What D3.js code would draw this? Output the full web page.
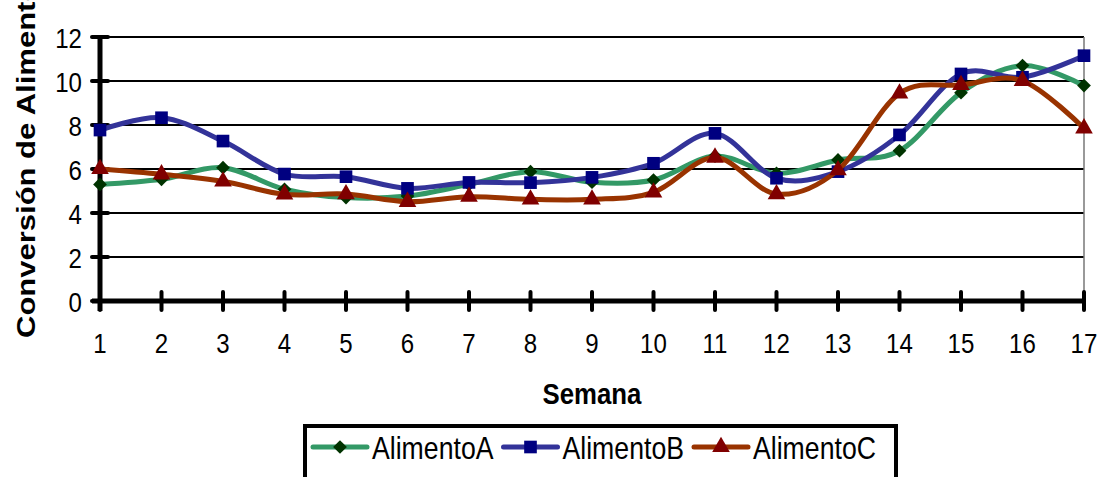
<!DOCTYPE html>
<html>
<head>
<meta charset="utf-8">
<script src="https://cdn.jsdelivr.net/npm/d3@7"></script>
<style>
  html, body { margin: 0; padding: 0; background: #fff; }
  svg { display: block; font-family: Arial, "Liberation Sans", sans-serif; }
</style>
</head>
<body>
<div id="chart"></div>
<script>
// Dimensions
const width = 1102;
const height = 477;
const plot = { left: 100, right: 1084, top: 37, bottom: 301 };
const squeeze = 0.86; // texts are horizontally narrow in the reference

// Données
const semanas = d3.range(1, 18);
const yTicks = [0, 2, 4, 6, 8, 10, 12];
const seriesNames = ['AlimentoA', 'AlimentoB', 'AlimentoC'];
const alimentoA = [5.3, 5.53, 6.06, 5.08, 4.7, 4.77, 5.3, 5.88, 5.4, 5.5, 6.59, 5.8, 6.41, 6.83, 9.47, 10.7, 9.79];
const alimentoB = [7.77, 8.33, 7.27, 5.77, 5.65, 5.12, 5.39, 5.38, 5.62, 6.26, 7.62, 5.58, 5.88, 7.55, 10.32, 10.17, 11.15];
const alimentoC = [6.0, 5.76, 5.44, 4.85, 4.86, 4.51, 4.74, 4.62, 4.62, 4.94, 6.52, 4.86, 5.95, 9.44, 9.82, 10.01, 7.85];

// Styles des séries
const styles = [
  { line: '#339966', marker: '#003300', symbol: d3.symbolDiamond2, size: 120 },
  { line: '#333399', marker: '#000080', symbol: d3.symbolSquare, size: 160 },
  { line: '#993300', marker: '#800000', symbol: d3.symbolTriangle, size: 135 }
];
const series = [alimentoA, alimentoB, alimentoC].map((values, i) => ({
  name: seriesNames[i],
  style: styles[i],
  points: values.map((v, j) => ({ x: semanas[j], y: v }))
}));

const svg = d3.select('#chart').append('svg')
  .attr('width', width)
  .attr('height', height);

// Echelles
const x = d3.scaleLinear().domain([1, 17]).range([plot.left, plot.right]);
const y = d3.scaleLinear().domain([0, 12]).range([plot.bottom, plot.top]);

// Grille horizontale
svg.append('g')
  .selectAll('line')
  .data(yTicks.filter(d => d > 0))
  .join('line')
    .attr('x1', plot.left).attr('x2', plot.right)
    .attr('y1', d => y(d)).attr('y2', d => y(d))
    .attr('stroke', '#000').attr('stroke-width', 2);

// Bord droit de la zone de tracé
svg.append('line')
  .attr('x1', plot.right).attr('x2', plot.right)
  .attr('y1', plot.top).attr('y2', plot.bottom)
  .attr('stroke', '#777').attr('stroke-width', 1.5);

// Axe vertical
const yAxis = svg.append('g')
  .attr('transform', `translate(${plot.left},0)`)
  .call(d3.axisLeft(y).tickValues(yTicks).tickSize(0).tickPadding(18))
  .call(g => g.select('.domain').remove());
yAxis.selectAll('.tick line').remove();
yAxis.selectAll('.tick text')
  .attr('font-size', 28)
  .attr('fill', '#000')
  .attr('font-family', 'Arial, "Liberation Sans", sans-serif')
  .attr('dy', '0.36em')
  .attr('transform', `scale(${squeeze},1)`)
  .attr('x', -18 / squeeze);
svg.append('line')
  .attr('x1', plot.left).attr('x2', plot.left)
  .attr('y1', plot.top).attr('y2', plot.bottom + 10)
  .attr('stroke', '#000').attr('stroke-width', 5);
svg.append('g')
  .selectAll('line')
  .data(yTicks)
  .join('line')
    .attr('x1', plot.left - 8).attr('x2', plot.left + 8)
    .attr('y1', d => y(d)).attr('y2', d => y(d))
    .attr('stroke', '#000').attr('stroke-width', 4).attr('stroke-linecap', 'round');

// Axe horizontal
svg.append('line')
  .attr('x1', plot.left - 8).attr('x2', plot.right)
  .attr('y1', plot.bottom).attr('y2', plot.bottom)
  .attr('stroke', '#000').attr('stroke-width', 5);
svg.append('g')
  .selectAll('line')
  .data(semanas)
  .join('line')
    .attr('x1', d => x(d)).attr('x2', d => x(d))
    .attr('y1', plot.bottom - 9).attr('y2', plot.bottom + 9)
    .attr('stroke', '#000').attr('stroke-width', 4).attr('stroke-linecap', 'round');
svg.append('g')
  .selectAll('text')
  .data(semanas)
  .join('text')
    .attr('transform', d => `translate(${x(d)},353) scale(${squeeze},1)`)
    .attr('text-anchor', 'middle')
    .attr('font-size', 28)
    .text(d => d);

// Titres des axes (le titre vertical déborde en haut, comme dans l'original)
svg.append('text')
  .attr('transform', `translate(592,404) scale(${squeeze},1)`)
  .attr('text-anchor', 'middle')
  .attr('font-size', 30)
  .attr('font-weight', 'bold')
  .text('Semana');
svg.append('text')
  .attr('transform', `translate(35,338) rotate(-90) scale(1,${squeeze})`)
  .attr('font-size', 31)
  .attr('font-weight', 'bold')
  .text('Conversión de Alimento');

// Courbes lissées
const line = d3.line()
  .x(d => x(d.x))
  .y(d => y(d.y))
  .curve(d3.curveCatmullRom.alpha(0));

const serieG = svg.append('g')
  .selectAll('g')
  .data(series)
  .join('g');
serieG.append('path')
  .attr('d', d => line(d.points))
  .attr('fill', 'none')
  .attr('stroke', d => d.style.line)
  .attr('stroke-width', 5)
  .attr('stroke-linejoin', 'round');
serieG.each(function (s) {
  d3.select(this).selectAll('path.marker')
    .data(s.points)
    .join('path')
      .attr('class', 'marker')
      .attr('transform', d => `translate(${x(d.x)},${y(d.y)})`)
      .attr('d', d3.symbol(s.style.symbol, s.style.size))
      .attr('fill', s.style.marker);
});

// Légende
const legend = svg.append('g');
legend.append('rect')
  .attr('x', 305).attr('y', 426)
  .attr('width', 591).attr('height', 80)
  .attr('fill', 'none')
  .attr('stroke', '#000')
  .attr('stroke-width', 4);
const item = legend.selectAll('g.item')
  .data(series)
  .join('g')
    .attr('class', 'item')
    .attr('transform', (d, i) => `translate(${313 + i * 190.5},447)`);
item.append('line')
  .attr('x1', 0).attr('x2', 54)
  .attr('stroke', d => d.style.line)
  .attr('stroke-width', 5)
  .attr('stroke-linecap', 'round');
item.append('path')
  .attr('transform', 'translate(27,0)')
  .attr('d', d => d3.symbol(d.style.symbol, d.style.size)())
  .attr('fill', d => d.style.marker);
item.append('text')
  .attr('transform', `translate(59,12) scale(${squeeze},1)`)
  .attr('font-size', 31)
  .text(d => d.name);
</script>
</body>
</html>
